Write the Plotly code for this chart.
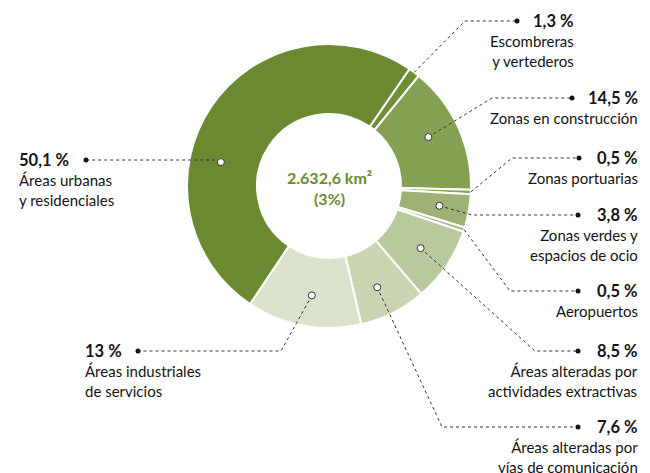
import math
import plotly.graph_objects as go

# Data (clockwise from the top-right boundary)
values = [1.3, 14.5, 0.5, 3.8, 0.5, 8.5, 7.6, 13, 50.1]
pct_text = ["1,3 %", "14,5 %", "0,5 %", "3,8 %", "0,5 %", "8,5 %", "7,6 %", "13 %", "50,1 %"]
names = ["Escombreras<br>y vertederos", "Zonas en construcción", "Zonas portuarias",
         "Zonas verdes y<br>espacios de ocio", "Aeropuertos",
         "Áreas alteradas por<br>actividades extractivas",
         "Áreas alteradas por<br>vías de comunicación",
         "Áreas industriales<br>de servicios", "Áreas urbanas<br>y residenciales"]
center_text = "<b>2.632,6 km²<br>(3%)</b>"

colors = ["#6f8e36", "#84a053", "#8aa35c", "#9db274", "#a9bc87",
          "#b9c89d", "#c9d4b1", "#d9e2ca", "#6a8930"]

# Layout (pixels, page coordinates; the page body adds an 8px offset)
W, H, OFF = 650, 473, 8
cx, cy, R = 329, 186, 142
rotation = 34.5
anchor_r = [1.0, 0.78, 1.0, 0.79, 1.0, 0.78, 0.79, 0.78, 0.78]
anchor_frac = [0.5, 0.47, 0.5, 0.5, 0.5, 0.5, 0.55, 0.47, 0.38]
elbows = [(465, 21), (492, 98), (512, 158), (472, 215), (510, 291),
          (535, 351), (442, 427), (281, 351), (215, 160)]
ends_x = [517, 572, 579, 578, 578, 578, 578, 138, 86]
text_x = [576, 640, 640, 640, 640, 640, 640, 83, 17]
text_side = ["right"] * 7 + ["left", "left"]

ink = "#141414"
font = "Lato"

fig = go.Figure()
fig.add_trace(go.Pie(
    values=values,
    labels=[n.replace("<br>", " ") for n in names],
    sort=False,
    direction="clockwise",
    rotation=rotation,
    hole=0.507,
    textinfo="none",
    marker=dict(colors=colors, line=dict(color="white", width=2)),
    domain=dict(x=[(cx - R - OFF) / W, (cx + R - OFF) / W],
                y=[1 - (cy + R - OFF) / H, 1 - (cy - R - OFF) / H]),
    showlegend=False,
))
# invisible overlay axes in pixel units for leaders
fig.add_trace(go.Scatter(x=[OFF, W], y=[OFF, H], mode="markers", marker=dict(opacity=0),
                         hoverinfo="skip", showlegend=False))

total = sum(values)
shapes = []
annotations = []
cum = 0
for i, v in enumerate(values):
    a0 = rotation + cum / total * 360
    a1 = rotation + (cum + v) / total * 360
    cum += v
    th = math.radians(a0 + anchor_frac[i] * (a1 - a0))
    ax = cx + R * anchor_r[i] * math.sin(th)
    ay = cy - R * anchor_r[i] * math.cos(th)
    ex, ey = elbows[i]
    path = f"M {ax:.1f} {ay:.1f} L {ex} {ey} L {ends_x[i]} {ey}"
    shapes.append(dict(type="path", path=path, xref="x", yref="y",
                       line=dict(color="#333333", width=1, dash="dot")))
    shapes.append(dict(type="circle", xref="x", yref="y",
                       x0=ends_x[i] - 2.5, x1=ends_x[i] + 2.5, y0=ey - 2.5, y1=ey + 2.5,
                       fillcolor=ink, line=dict(width=0)))
    if anchor_r[i] < 1:
        shapes.append(dict(type="circle", xref="x", yref="y",
                           x0=ax - 3.5, x1=ax + 3.5, y0=ay - 3.5, y1=ay + 3.5,
                           fillcolor="white", line=dict(color="#333333", width=1)))
    annotations.append(dict(
        x=text_x[i], y=ey, xref="x", yref="y",
        xanchor=text_side[i], yanchor="middle",
        text=f"<b>{pct_text[i]}</b>", showarrow=False,
        font=dict(family=font, size=16.5, color=ink)))
    annotations.append(dict(
        x=text_x[i], y=ey + 9, xref="x", yref="y",
        xanchor=text_side[i], yanchor="top", align=text_side[i],
        text=names[i], showarrow=False,
        font=dict(family=font, size=15, color=ink)))

annotations.append(dict(x=cx, y=cy + 2, xref="x", yref="y", text=center_text,
                        showarrow=False, xanchor="center", yanchor="middle",
                        font=dict(family=font, size=16, color="#6b8a30")))

fig.update_layout(
    width=W, height=H,
    margin=dict(l=0, r=0, t=0, b=0),
    paper_bgcolor="white", plot_bgcolor="white",
    xaxis=dict(range=[OFF, W + OFF], visible=False, fixedrange=True),
    yaxis=dict(range=[H + OFF, OFF], visible=False, fixedrange=True),
    shapes=shapes,
    annotations=annotations,
)
fig.write_html("out.html")
